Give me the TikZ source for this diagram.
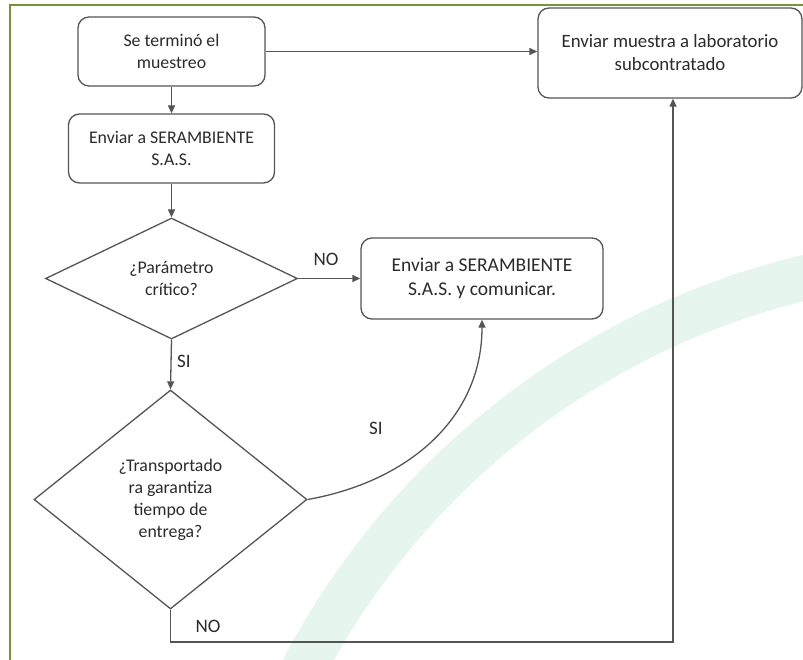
\documentclass[tikz,border=0pt]{standalone}
\usepackage{fontspec}
\setmainfont{Carlito}
\usetikzlibrary{shapes.geometric,arrows.meta}
\definecolor{frame}{HTML}{77933C}
\definecolor{band}{HTML}{E6F5EE}
\definecolor{ln}{HTML}{555555}
\definecolor{txt}{HTML}{2B2B2B}
\begin{document}
\begin{tikzpicture}[x=1pt,y=-1pt,
  box/.style={draw=ln, line width=1.3pt, rounded corners=11pt, align=center, text=txt, inner sep=2pt},
  dec/.style={draw=ln, line width=1.3pt, diamond, align=center, text=txt, inner sep=0pt},
  conn/.style={draw=ln, line width=1.3pt, -{Triangle[length=8pt,width=7pt]}},
  lbl/.style={text=txt, font=\fontsize{19}{22}\selectfont},
  ftxt/.style={font=\fontsize{17.8}{22}\selectfont}]
\useasboundingbox (0,0) rectangle (803,660);
\fill[white] (0,0) rectangle (803,660);
\begin{scope}
  \clip (0,0) rectangle (803,660);
  \draw[band, line width=45pt] (985,1025.5) circle[radius=769pt];
\end{scope}
\draw[frame, line width=2.2pt] (10,661) -- (10,5) -- (804,5);

\node[box,ftxt,minimum width=187pt,minimum height=69pt] (b1) at (171.5,51.5) {Se terminó el\\muestreo};
\node[box,ftxt,minimum width=206pt,minimum height=69pt] (b2) at (171.5,148.5) {Enviar a SERAMBIENTE\\S.A.S.};
\node[dec,ftxt,minimum width=252pt,minimum height=121pt,shape aspect=2] (d1) at (171.5,278.5) {¿Parámetro\\crítico?};
\node[dec,ftxt,minimum width=273pt,minimum height=219pt] (d2) at (170.5,499.5) {¿Transportado\\ra garantiza\\tiempo de\\entrega?};
\node[box,font=\fontsize{19.5}{24}\selectfont,minimum width=242pt,minimum height=81pt] (b3) at (482,278.5) {Enviar a SERAMBIENTE\\S.A.S. y comunicar.};
\node[box,font=\fontsize{18.8}{23}\selectfont,minimum width=264pt,minimum height=90pt] (b4) at (670,53) {Enviar muestra a laboratorio\\subcontratado};

\draw[conn] (b1.south) -- (b2.north);
\draw[conn] (b2.south) -- (d1.north);
\draw[conn] (d1.east) -- (b3.west);
\draw[conn] (d1.south) -- (d2.north);
\draw[conn] (d2.east) .. controls +(98.5,-17.4) and +(0,100) .. (b3.south);
\coordinate (nc) at (673,642);
\draw[conn] (d2.south) |- (nc) -- (nc |- b4.south);
\draw[conn] (b1.east) -- (b1.east -| b4.west);

\node[lbl] (lno1) at (326,259) {NO};
\node[lbl] (lsi1) at (184,361) {SI};
\node[lbl] (lsi2) at (376,428) {SI};
\node[lbl] (lno2) at (208,626) {NO};
\end{tikzpicture}
\end{document}
